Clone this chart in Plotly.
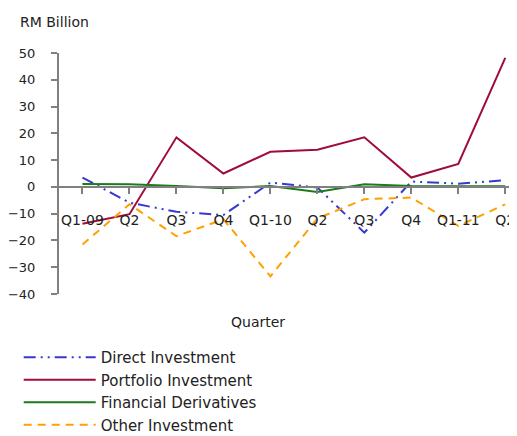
import plotly.graph_objects as go

quarters = ['Q1-09', 'Q2', 'Q3', 'Q4', 'Q1-10', 'Q2', 'Q3', 'Q4', 'Q1-11', 'Q2']
direct = [3.5, -5.9, -9.3, -10.5, 1.6, -0.2, -17.1, 2.0, 1.2, 2.5]
portfolio = [-13.8, -10.2, 18.5, 5.0, 13.1, 13.9, 18.5, 3.5, 8.6, 48.2]
derivatives = [1.1, 1.0, 0.3, -0.5, 0.3, -1.9, 1.0, 0.3, 0.2, 0.2]
other = [-21.5, -6.5, -18.4, -12.1, -33.4, -11.8, -4.6, -4.0, -14.6, -6.5]

y_min, y_max = -40, 50
FONT = 'DejaVu Sans'
GREY = '#808080'

x = list(range(len(quarters)))

fig = go.Figure()
fig.add_trace(go.Scatter(x=x, y=direct, mode='lines', name='Direct Investment',
                         line={'color': '#3838D0', 'width': 2,
                               'dash': '12px,5px,2px,5px,2px,5px'}))
fig.add_trace(go.Scatter(x=x, y=portfolio, mode='lines', name='Portfolio Investment',
                         line={'color': '#A00C3A', 'width': 2}))
fig.add_trace(go.Scatter(x=x, y=derivatives, mode='lines', name='Financial Derivatives',
                         line={'color': '#1C7A1C', 'width': 2}))
fig.add_trace(go.Scatter(x=x, y=other, mode='lines', name='Other Investment',
                         line={'color': '#FFA000', 'width': 2, 'dash': '8px,6px'}))

# the page body adds ~8px on the top/left, so the figure is a bit smaller
fig.update_layout(
    width=509, height=428,
    margin=dict(l=47, r=0, t=45, b=142),
    plot_bgcolor='white', paper_bgcolor='white',
    font=dict(family=FONT, size=14, color='#222222'),
    showlegend=True,
    legend=dict(x=-0.088, y=0.222, xanchor='left', yanchor='top', yref='container',
                font=dict(size=15), tracegroupgap=0, itemwidth=72),
)

fig.update_xaxes(
    tickmode='array', tickvals=x, ticktext=quarters,
    range=[-0.5, 9.25],
    anchor='free', position=(0 - y_min) / (y_max - y_min),
    showline=True, linecolor=GREY, linewidth=2,
    ticks='outside', tickcolor=GREY, ticklen=6, tickwidth=2,
    tickson='boundaries', ticklabelstandoff=14,
    showgrid=False, zeroline=False,
    tickfont=dict(size=14),
)
fig.update_yaxes(
    range=[y_min, y_max], dtick=10,
    showline=True, linecolor=GREY, linewidth=2,
    ticks='outside', tickcolor=GREY, ticklen=6, tickwidth=2,
    showgrid=False, zeroline=False, ticklabelstandoff=13,
    tickfont=dict(size=13),
)

fig.add_annotation(text='RM Billion', xref='paper', yref='paper',
                   x=-0.09, y=1.0, yshift=31, xanchor='left', yanchor='middle',
                   showarrow=False, font=dict(size=14))
fig.add_annotation(text='Quarter', xref='paper', yref='paper',
                   x=0.435, y=0, yshift=-28, xanchor='center', yanchor='middle',
                   showarrow=False, font=dict(size=14))

fig.write_html("out.html")
